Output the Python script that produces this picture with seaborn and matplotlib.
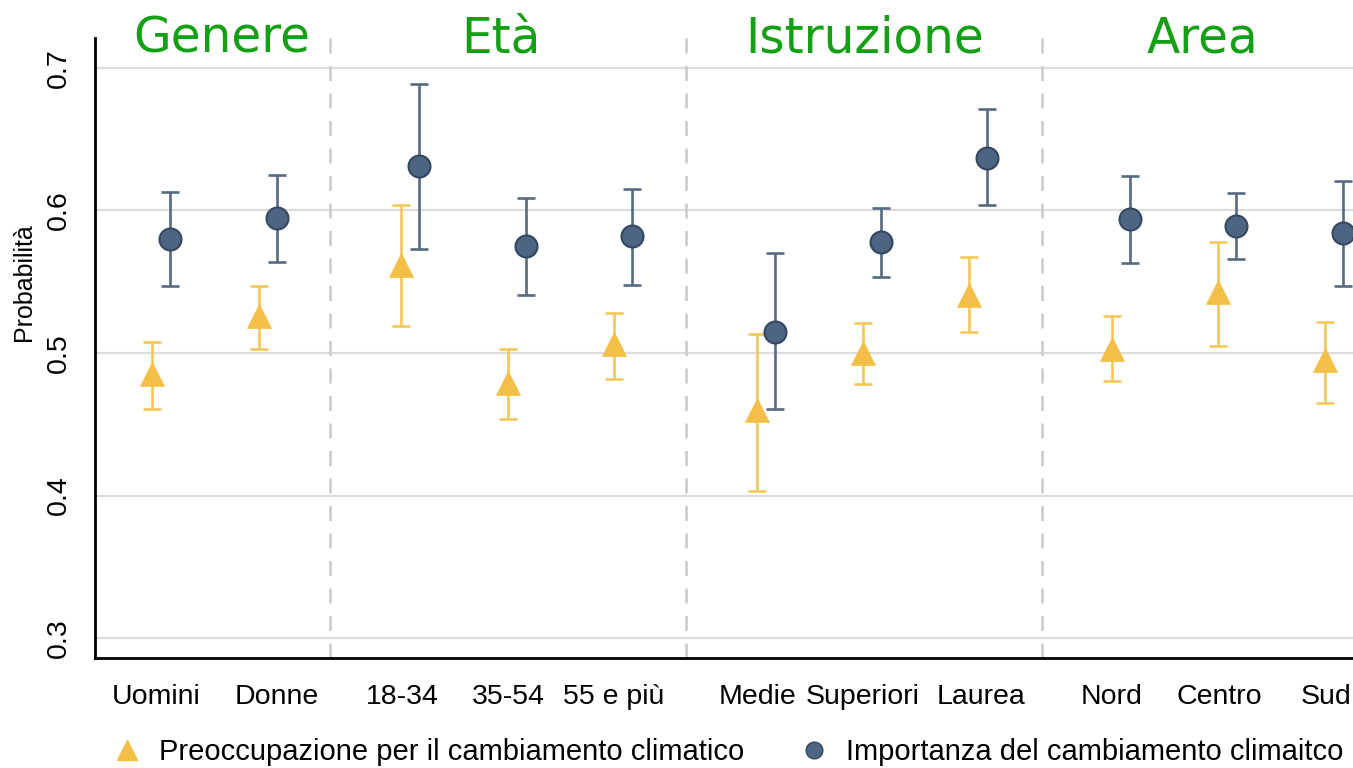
import numpy as np
import pandas as pd
import matplotlib
matplotlib.use("Agg")
import matplotlib.pyplot as plt
from matplotlib.lines import Line2D
import seaborn as sns

# ---------------- data ----------------
categories = ["Uomini", "Donne", "18-34", "35-54", "55 e più",
              "Medie", "Superiori", "Laurea", "Nord", "Centro", "Sud"]
groups = ["Genere", "Età", "Istruzione", "Area"]

preoc = [0.485, 0.526, 0.562, 0.479, 0.506, 0.460, 0.500, 0.541, 0.503, 0.543, 0.495]
preoc_lo = [0.461, 0.503, 0.519, 0.454, 0.482, 0.403, 0.478, 0.515, 0.480, 0.505, 0.465]
preoc_hi = [0.508, 0.547, 0.604, 0.503, 0.528, 0.513, 0.521, 0.567, 0.526, 0.578, 0.522]

impor = [0.580, 0.595, 0.631, 0.575, 0.582, 0.515, 0.578, 0.637, 0.594, 0.589, 0.584]
impor_lo = [0.547, 0.564, 0.573, 0.541, 0.548, 0.461, 0.553, 0.604, 0.563, 0.566, 0.547]
impor_hi = [0.613, 0.625, 0.689, 0.609, 0.615, 0.570, 0.602, 0.671, 0.624, 0.612, 0.621]

series_names = ["Preoccupazione per il cambiamento climatico",
                "Importanza del cambiamento climaitco"]
y_ticks = [0.3, 0.4, 0.5, 0.6, 0.7]
y_label = "Probabilità"

# ---------------- layout ----------------
x_pos = np.array([0.0, 1.005, 2.338, 3.343, 4.338, 5.681, 6.676, 7.671, 9.014, 10.009, 11.014])
tick_pos = [0.038, 1.174, 2.347, 3.343, 4.338, 5.681, 6.676, 7.784, 9.014, 10.019, 11.023]
offset = 0.169
dividers = [1.671, 5.014, 8.357]
title_x = [0.658, 3.277, 6.69, 9.86]

yellow = "#F4BF47"
yellow_bar = "#F3C75A"
blue = "#4D6583"
blue_edge = "#34485F"
blue_bar = "#566A80"

df = pd.DataFrame({
    "x": np.concatenate([x_pos, x_pos + offset]),
    "y": preoc + impor,
    "serie": [series_names[0]] * len(x_pos) + [series_names[1]] * len(x_pos),
})

sns.set_theme(style="white")
plt.rcParams["font.family"] = ["Liberation Sans", "DejaVu Sans"]
plt.rcParams["text.color"] = "black"

fig = plt.figure(figsize=(13.53, 7.68), dpi=100)
ax = fig.add_axes([95 / 1353, 110 / 768, 1 - 95 / 1353, 620 / 768])

# grid
for yt in y_ticks:
    ax.axhline(yt, color="#DCDCDC", lw=1.6, zorder=0)
for d in dividers:
    ax.axvline(d, color="#C9C9C9", lw=1.8, ls=(0, (6, 5)), zorder=0)

# error bars
ax.errorbar(x_pos, preoc,
            yerr=[np.array(preoc) - np.array(preoc_lo), np.array(preoc_hi) - np.array(preoc)],
            fmt="none", ecolor=yellow_bar, elinewidth=1.9, capsize=6.5, capthick=1.9, zorder=2)
ax.errorbar(x_pos + offset, impor,
            yerr=[np.array(impor) - np.array(impor_lo), np.array(impor_hi) - np.array(impor)],
            fmt="none", ecolor=blue_bar, elinewidth=1.9, capsize=6.5, capthick=1.9, zorder=2)

# points
sns.scatterplot(data=df[df.serie == series_names[0]], x="x", y="y", ax=ax,
                marker="^", s=300, color=yellow, edgecolor=yellow, linewidth=0.5,
                zorder=3, legend=False)
sns.scatterplot(data=df[df.serie == series_names[1]], x="x", y="y", ax=ax,
                marker="o", s=250, color=blue, edgecolor=blue_edge, linewidth=1.5,
                zorder=3, legend=False)

ax.set_xlim(-0.535, 11.277)
ax.set_ylim(0.286, 0.721)
ax.set_xticks(tick_pos)
ax.set_xticklabels(categories, fontsize=20.5, color="black")
ax.set_yticks(y_ticks)
ax.set_yticklabels([f"{v:.1f}" for v in y_ticks], fontsize=20.5, rotation=90, va="center",
                   color="black")
ax.set_xlabel("")
ax.set_ylabel(y_label, fontsize=18, color="black")
ax.yaxis.set_label_coords(-0.047, 0.606)

ax.tick_params(axis="both", direction="out", length=11, width=1.5, color="black", pad=6)
ax.tick_params(axis="x", pad=8)
for s in ["top", "right"]:
    ax.spines[s].set_visible(False)
for s in ["left", "bottom"]:
    ax.spines[s].set_color("black")
    ax.spines[s].set_linewidth(2)

# group titles
for gx, g in zip(title_x, groups):
    ax.text(gx, 0.7105, g, transform=ax.transData, ha="center", va="baseline",
            fontsize=35, color="#14A014", clip_on=False,
            family=["DejaVu Sans"])

# legend
handles = [
    Line2D([], [], marker="^", ls="none", color=yellow, markersize=14),
    Line2D([], [], marker="o", ls="none", color=blue, markeredgecolor=blue_edge, markersize=12),
]
leg = fig.legend(handles, series_names, loc="center", bbox_to_anchor=(728 / 1353, 1 - 752 / 768),
                 ncol=2, frameon=False, fontsize=21, columnspacing=1.9,
                 handlelength=1.0, handletextpad=0.6)
for t in leg.get_texts():
    t.set_color("black")

fig.savefig("out.png", dpi=100)
